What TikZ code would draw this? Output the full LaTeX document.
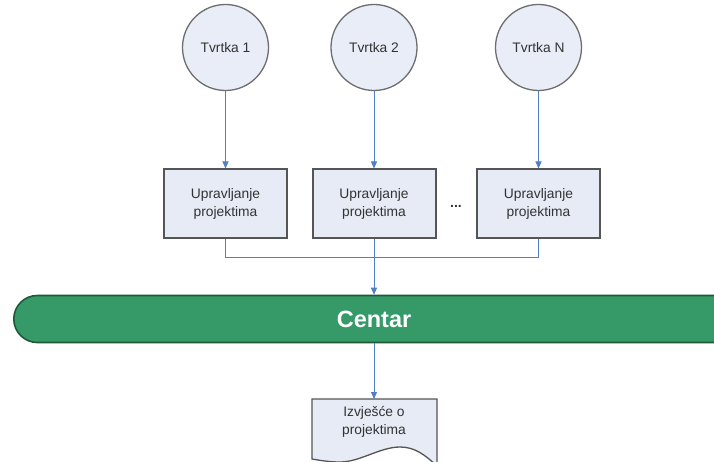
\documentclass[tikz,border=0pt]{standalone}
\usepackage{fontspec}
\setmainfont{Liberation Sans}
\usetikzlibrary{arrows.meta,shapes.misc}
\definecolor{circfill}{HTML}{E9EDF7}
\definecolor{circline}{HTML}{6E6E6E}
\definecolor{boxfill}{HTML}{E6EBF5}
\definecolor{boxline}{HTML}{555555}
\definecolor{conn}{HTML}{4F7FC4}
\definecolor{barfill}{HTML}{359A68}
\definecolor{barline}{HTML}{1E5A38}
\definecolor{txt}{HTML}{333333}
\tikzset{
  firm/.style={circle, draw=circline, line width=1.3pt, fill=circfill, minimum size=86pt, inner sep=0pt, font=\fontsize{13.8}{15}\selectfont, text=txt},
  mgmt/.style={rectangle, draw=boxline, line width=2pt, fill=boxfill, minimum width=123pt, minimum height=69pt, align=center, font=\fontsize{13.8}{18}\selectfont, text=txt},
  link/.style={draw=conn, line width=0.9pt},
  arr/.style={link, -{Triangle[length=7pt,width=6pt]}},
}
\begin{document}
\begin{tikzpicture}[x=1pt,y=-1pt]
\useasboundingbox (0,0) rectangle (714,462);
\clip (0,0) rectangle (714,462);
\fill[white] (0,0) rectangle (714,462);
% circles
\node[firm] (c1) at (225.5,47.5) {Tvrtka 1};
\node[firm] (c2) at (374,47.5) {Tvrtka 2};
\node[firm] (cn) at (538.5,47.5) {Tvrtka N};
% boxes
\node[mgmt] (b1) at (225.5,204) {Upravljanje\\projektima};
\node[mgmt] (b2) at (374,204) {Upravljanje\\projektima};
\node[mgmt] (bn) at (538.5,204) {Upravljanje\\projektima};
\node[font=\fontsize{14}{15}\selectfont\bfseries, text=txt] (dots) at (456,206) {...};
% arrows circles -> boxes
\draw[arr] (c1.south) -- (b1.north);
\draw[arr] (c2.south) -- (b2.north);
\draw[arr] (cn.south) -- (bn.north);
% bar
\node[rounded rectangle, rounded rectangle right arc=none, draw=barline, line width=1.6pt, fill=barfill, minimum height=47pt, minimum width=720pt, anchor=west] (bar) at (13,319) {};
\node[font=\fontsize{23.5}{25}\selectfont\bfseries, text=white] (centar) at (374,319) {Centar};
% bus
\coordinate (j) at (374,257);
\draw[link] (b1.south) |- (j);
\draw[link] (bn.south) |- (j);
\draw[arr] (b2.south) -- (b2.south |- bar.north);
% document
\coordinate (doctop) at (374,399);
\draw[draw=boxline, line width=1.3pt, fill=boxfill] (312,399) -- (437,399) -- (437,466)
  .. controls (425,455) and (415,447) .. (400,447)
  .. controls (380,447) and (360,462) .. (340,462)
  .. controls (328,462) and (318,460) .. (312,459) -- cycle;
\node[align=center, font=\fontsize{13.8}{18}\selectfont, text=txt] (doc) at (374,422) {Izvješće o\\projektima};
\draw[arr] (bar.south -| doctop) -- (doctop);
\end{tikzpicture}
\end{document}
